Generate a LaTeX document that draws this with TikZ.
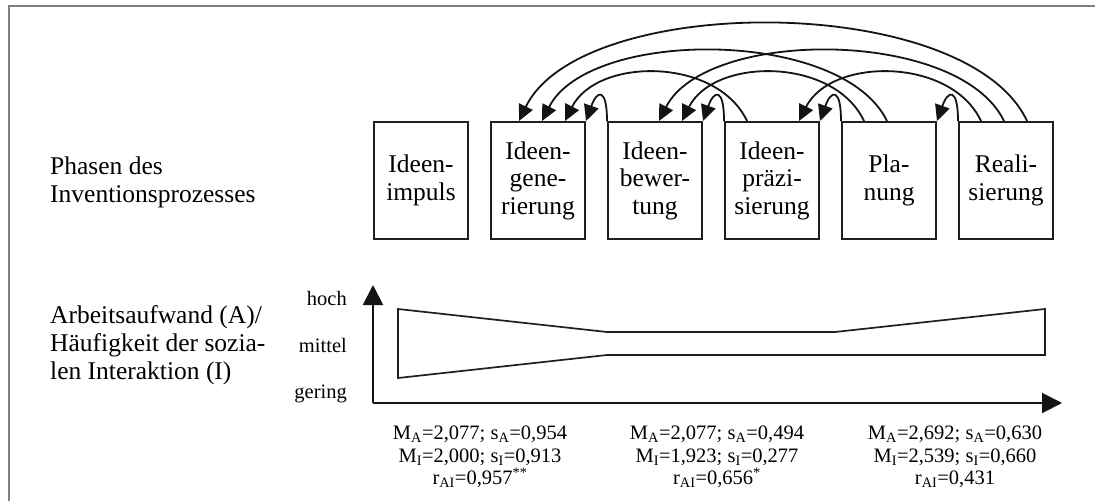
\documentclass[tikz,border=0pt]{standalone}
\usepackage{fontspec}
\setmainfont{Liberation Serif}
\usetikzlibrary{arrows.meta,calc}
\begin{document}
\begin{tikzpicture}[x=1pt,y=-1pt,
  phase/.style={draw=black!88, line width=2pt, minimum width=94pt, minimum height=117pt,
    inner sep=0pt, align=center, font=\fontsize{25.5}{27.5}\selectfont},
  fb/.style={draw=black!92, line width=1.8pt, -{Triangle[length=16pt,width=15pt]}},
  axisline/.style={draw=black!92, line width=2pt, -{Triangle[length=20pt,width=20pt]}},
  bigtext/.style={inner sep=0pt, align=left, font=\fontsize{25.5}{28}\selectfont},
  smalltext/.style={inner sep=0pt, font=\fontsize{20.5}{22.5}\selectfont},
  stat/.style={inner sep=0pt, align=center, font=\fontsize{20.5}{22.5}\selectfont},
  framecol/.style={draw=black!50, line width=1.3pt},
  band/.style={draw=black!88, line width=1.7pt}
]
\useasboundingbox (0,0) rectangle (1095,501);
\fill[white] (0,0) rectangle (1095,501);
\draw[framecol] (9,501) -- (9,6) -- (1095,6);

% left labels
\node[bigtext, anchor=west] (lab1) at (50,182.5) {Phasen des\\Inventionsprozesses};
\node[bigtext, anchor=west] (lab2) at (50,345) {Arbeitsaufwand (A)/\\H\"aufigkeit der sozia-\\len Interaktion (I)};

% phase boxes
\node[phase] (b1) at (421,180.5) {Ideen-\\impuls};
\node[phase] (b2) at (538,180.5) {Ideen-\\gene-\\rierung};
\node[phase] (b3) at (655,180.5) {Ideen-\\bewer-\\tung};
\node[phase] (b4) at (772,180.5) {Ideen-\\pr\"azi-\\sierung};
\node[phase] (b5) at (889,180.5) {Pla-\\nung};
\node[phase] (b6) at (1006,180.5) {Reali-\\sierung};

% arrow heads and tails on the box tops
\coordinate (h2a) at ($(b2.north west)+(29,0)$);
\coordinate (h2b) at ($(b2.north west)+(52,0)$);
\coordinate (h2c) at ($(b2.north west)+(75,0)$);
\coordinate (h3a) at ($(b3.north west)+(52,0)$);
\coordinate (h3b) at ($(b3.north west)+(75,0)$);
\coordinate (h4)  at ($(b4.north west)+(75,0)$);
\coordinate (t4)  at ($(b4.north west)+(23,0)$);
\coordinate (t5a) at ($(b5.north west)+(23,0)$);
\coordinate (t5b) at ($(b5.north west)+(46,0)$);
\coordinate (t6a) at ($(b6.north west)+(23,0)$);
\coordinate (t6b) at ($(b6.north west)+(46,0)$);
\coordinate (t6c) at ($(b6.north west)+(69,0)$);

% feedback arcs
\draw[fb] (t6c) .. controls +(-60,-129) and +(62,-129) .. (h2a);
\draw[fb] (t5b) .. controls +(-45,-93) and +(47,-93) .. (h2b);
\draw[fb] (t4)  .. controls +(-30,-64) and +(32,-64) .. (h2c);
\draw[fb] (t6b) .. controls +(-45,-93) and +(47,-93) .. (h3a);
\draw[fb] (t5a) .. controls +(-30,-64) and +(32,-64) .. (h3b);
\draw[fb] (t6a) .. controls +(-30,-64) and +(32,-64) .. (h4);

% small loops back to the previous phase
\draw[fb] (b3.north west) .. controls +(0,-34) and +(11,-31) .. (b2.north east);
\draw[fb] (b4.north west) .. controls +(0,-34) and +(11,-31) .. (b3.north east);
\draw[fb] (b5.north west) .. controls +(0,-34) and +(11,-31) .. (b4.north east);
\draw[fb] (b6.north west) .. controls +(0,-34) and +(11,-31) .. (b5.north east);

% axes
\coordinate (O) at (373,403);
\coordinate (ytip) at (373,285);
\coordinate (xtip) at (1062,403);
\draw[axisline] (O) -- (ytip);
\draw[axisline] (O) -- (xtip);
\node[smalltext, anchor=base east] (hoch) at (347,305) {hoch};
\node[smalltext, anchor=base east] (mittel) at (347,352) {mittel};
\node[smalltext, anchor=base east] (gering) at (347,398) {gering};

% band
\draw[band] (398,309) -- (607,332) -- (835,332) -- (1045,309) -- (1045,355) -- (607,355) -- (398,378) -- cycle;

% statistics
\node[stat] (s1) at (480,457) {M\textsubscript{A}=2,077; s\textsubscript{A}=0,954\\M\textsubscript{I}=2,000; s\textsubscript{I}=0,913\\r\textsubscript{AI}=0,957\textsuperscript{**}};
\node[stat] (s2) at (717,457) {M\textsubscript{A}=2,077; s\textsubscript{A}=0,494\\M\textsubscript{I}=1,923; s\textsubscript{I}=0,277\\r\textsubscript{AI}=0,656\textsuperscript{*}};
\node[stat] (s3) at (955,457) {M\textsubscript{A}=2,692; s\textsubscript{A}=0,630\\M\textsubscript{I}=2,539; s\textsubscript{I}=0,660\\r\textsubscript{AI}=0,431};
\end{tikzpicture}
\end{document}
